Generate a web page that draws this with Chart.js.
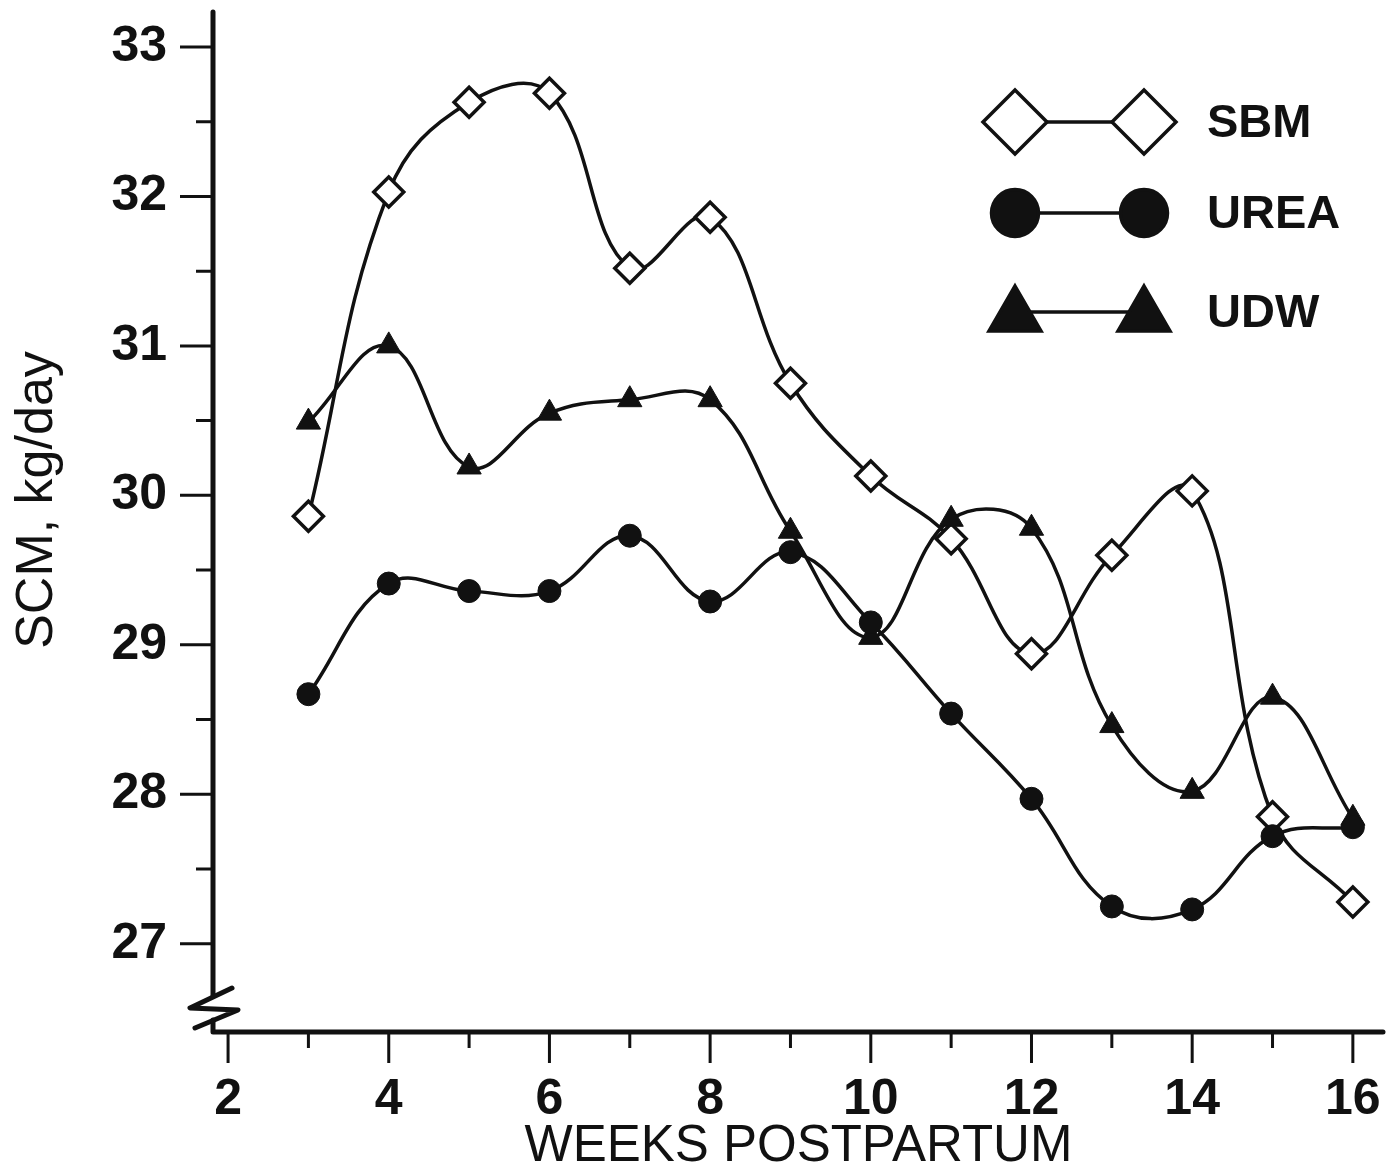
<!DOCTYPE html>
<html>
<head>
<meta charset="utf-8">
<title>SCM by weeks postpartum</title>
<script src="https://cdn.jsdelivr.net/npm/chart.js@4.4.1/dist/chart.umd.min.js"></script>
<style>
  html, body { margin: 0; padding: 0; background: #fff; }
  #wrap { width: 1388px; height: 1172px; position: relative; }
</style>
</head>
<body>
<div id="wrap"><canvas id="res"></canvas></div>
<script>
(function () {

    // values (SCM, kg/day)
    var weeks = [3, 4, 5, 6, 7, 8, 9, 10, 11, 12, 13, 14, 15, 16];
    var sbm  = [29.86, 32.03, 32.63, 32.69, 31.52, 31.86, 30.75, 30.13, 29.71, 28.94, 29.60, 30.03, 27.85, 27.28];
    var urea = [28.67, 29.41, 29.36, 29.36, 29.73, 29.29, 29.62, 29.15, 28.54, 27.97, 27.25, 27.23, 27.72, 27.78];
    var udw  = [30.49, 31.00, 30.19, 30.55, 30.64, 30.64, 29.76, 29.05, 29.84, 29.78, 28.46, 28.02, 28.65, 27.84];

    var xTicks = [2, 4, 6, 8, 10, 12, 14, 16];
    var yTicks = [27, 28, 29, 30, 31, 32, 33];

    var ink = '#111';
    var fam = '"Liberation Sans", Arial, Helvetica, sans-serif';

    function pts(vals) {
        return weeks.map(function (w, i) { return {x: w, y: vals[i]}; });
    }

    function marker(ctx, style, r, x, y, fill) {
        ctx.fillStyle = fill;
        ctx.strokeStyle = ink;
        ctx.lineWidth = 3.5;
        if (Chart.helpers && Chart.helpers.drawPoint) {
            Chart.helpers.drawPoint(ctx, {pointStyle: style, radius: r, rotation: 0, borderWidth: 3.5}, x, y);
            return;
        }
        ctx.beginPath();
        if (style === 'circle') ctx.arc(x, y, r, 0, Math.PI * 2);
        else if (style === 'rectRot') { ctx.moveTo(x, y - r); ctx.lineTo(x + r, y); ctx.lineTo(x, y + r); ctx.lineTo(x - r, y); ctx.closePath(); }
        else { ctx.moveTo(x, y - r); ctx.lineTo(x + r * 0.866, y + r / 2); ctx.lineTo(x - r * 0.866, y + r / 2); ctx.closePath(); }
        ctx.fill(); ctx.stroke();
    }

    // axis lines with the break, tick marks, y title and the legend
    var decor = {
        id: 'decor',
        afterDraw: function (chart) {
            var ctx = chart.ctx, a = chart.chartArea;
            var xs = chart.scales.x, ys = chart.scales.y;
            var x0 = a.left + 1, yb = a.bottom;

            ctx.save();
            ctx.strokeStyle = ink;
            ctx.lineCap = 'round';
            ctx.lineJoin = 'round';

            ctx.lineWidth = 5;
            ctx.beginPath();
            ctx.moveTo(x0, a.top + 2); ctx.lineTo(x0, yb - 36);
            ctx.moveTo(x0, yb - 12); ctx.lineTo(x0, yb);
            ctx.moveTo(x0, yb); ctx.lineTo(a.right - 2, yb);
            ctx.stroke();

            ctx.beginPath();
            ctx.moveTo(x0 + 19, yb - 44); ctx.lineTo(x0 - 23, yb - 24);
            ctx.lineTo(x0 + 25, yb - 22); ctx.lineTo(x0 - 18, yb - 4);
            ctx.stroke();

            ctx.lineWidth = 3;
            ctx.lineCap = 'butt';
            ctx.beginPath();
            yTicks.forEach(function (v, i) {
                var p = ys.getPixelForValue(v);
                ctx.moveTo(x0, p); ctx.lineTo(x0 - 33, p);
                if (i < yTicks.length - 1) {
                    var m = ys.getPixelForValue((v + yTicks[i + 1]) / 2);
                    ctx.moveTo(x0, m); ctx.lineTo(x0 - 17, m);
                }
            });
            xTicks.forEach(function (v, i) {
                var p = xs.getPixelForValue(v);
                ctx.moveTo(p, yb); ctx.lineTo(p, yb + 31);
                if (i < xTicks.length - 1) {
                    var m = xs.getPixelForValue((v + xTicks[i + 1]) / 2);
                    ctx.moveTo(m, yb); ctx.lineTo(m, yb + 16);
                }
            });
            ctx.stroke();

            ctx.fillStyle = ink;
            ctx.font = '52px ' + fam;
            ctx.textAlign = 'center';
            ctx.textBaseline = 'middle';
            ctx.translate(38, 500);
            ctx.rotate(-Math.PI / 2);
            ctx.fillText('SCM, kg/day', 0, 0);
            ctx.restore();

            // legend: marker — line — marker, label
            var rowY = [122, 213, 312];
            var legR = {rectRot: 32, circle: 23.5, triangle: 30};
            ctx.save();
            chart.data.datasets.forEach(function (ds, i) {
                var y = rowY[i];
                ctx.strokeStyle = ink;
                ctx.lineWidth = 3.5;
                ctx.beginPath();
                ctx.moveTo(1015, y); ctx.lineTo(1144, y);
                ctx.stroke();
                var dy = ds.pointStyle === 'triangle' ? 4 : 0;
                marker(ctx, ds.pointStyle, legR[ds.pointStyle], 1015, y + dy, ds.pointBackgroundColor);
                marker(ctx, ds.pointStyle, legR[ds.pointStyle], 1144, y + dy, ds.pointBackgroundColor);
                ctx.fillStyle = ink;
                ctx.font = 'bold 47px ' + fam;
                ctx.textAlign = 'left';
                ctx.textBaseline = 'middle';
                ctx.fillText(ds.label, 1207, y + 2);
            });
            ctx.restore();
        }
    };

    var ctx = document.getElementById('res').getContext('2d');

    var options = {
        type: 'line',
        data: {
            datasets: [{
                label: 'SBM',
                data: pts(sbm),
                order: 2,
                pointStyle: 'rectRot',
                pointRadius: 15,
                pointBackgroundColor: '#fff',
                pointBorderColor: ink,
                pointBorderWidth: 3.5
            }, {
                label: 'UREA',
                data: pts(urea),
                order: 0,
                pointStyle: 'circle',
                pointRadius: 11.5,
                pointBackgroundColor: ink,
                pointBorderColor: ink,
                pointBorderWidth: 1
            }, {
                label: 'UDW',
                data: pts(udw),
                order: 1,
                pointStyle: 'triangle',
                pointRadius: 14,
                pointBackgroundColor: ink,
                pointBorderColor: ink,
                pointBorderWidth: 1
            }]
        },
        options: {
            responsive: true,
            maintainAspectRatio: false,
            animation: false,
            events: [],
            layout: {autoPadding: false, padding: {top: 10, right: 3, left: 0, bottom: 0}},
            elements: {
                line: {borderColor: ink, borderWidth: 3.5, tension: 0.4, fill: false},
                point: {hoverRadius: 0}
            },
            datasets: {line: {clip: false}},
            plugins: {
                legend: {display: false},
                tooltip: {enabled: false}
            },
            scales: {
                x: {
                    type: 'linear',
                    min: 1.8,
                    max: 16.4,
                    grid: {display: false},
                    border: {display: false},
                    afterBuildTicks: function (s) { s.ticks = xTicks.map(function (v) { return {value: v}; }); },
                    afterFit: function (s) { s.height = 140; s.paddingLeft = 0; s.paddingRight = 0; },
                    ticks: {
                        color: ink, padding: 30, maxRotation: 0, autoSkip: false,
                        font: {family: fam, size: 50, weight: 'bold'}
                    },
                    title: {
                        display: true, text: 'WEEKS POSTPARTUM', color: ink,
                        font: {family: fam, size: 51, lineHeight: 1},
                        padding: {top: 0, bottom: 0}
                    }
                },
                y: {
                    type: 'linear',
                    min: 26.41,
                    max: 33.247,
                    grid: {display: false},
                    border: {display: false},
                    afterBuildTicks: function (s) { s.ticks = yTicks.map(function (v) { return {value: v}; }); },
                    afterFit: function (s) { s.width = 212; s.paddingTop = 0; s.paddingBottom = 0; },
                    ticks: {
                        color: ink, padding: 37, autoSkip: false,
                        font: {family: fam, size: 50, weight: 'bold'}
                    }
                }
            }
        },
        plugins: [decor]
    };

    var myChart = new Chart(ctx, options);

})();
</script>
</body>
</html>
